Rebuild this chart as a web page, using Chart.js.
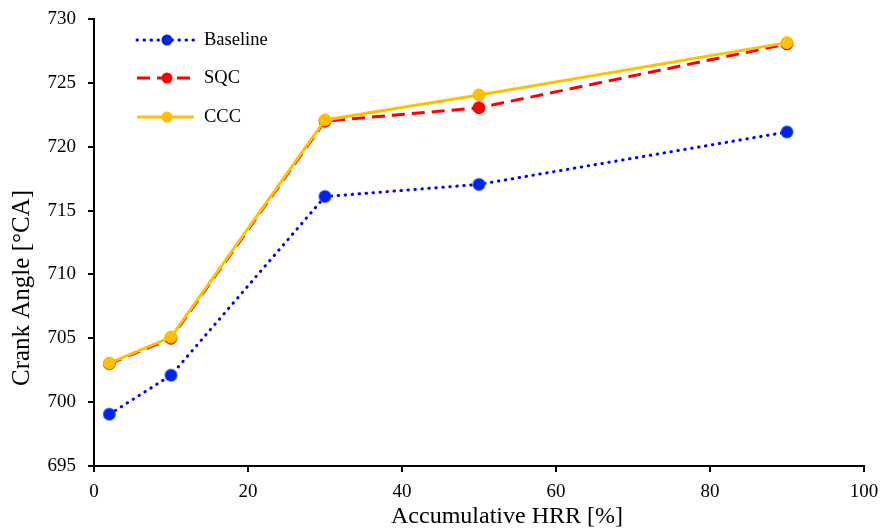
<!DOCTYPE html>
<html>
<head>
<meta charset="utf-8">
<script src="https://cdn.jsdelivr.net/npm/chart.js@4.4.0/dist/chart.umd.min.js"></script>
<style>
html,body{margin:0;padding:0;background:#fff;}
#wrap{width:882px;height:530px;}
</style>
</head>
<body>
<div id="wrap"><canvas id="c" width="882" height="530"></canvas></div>
<script>
const xValues = [2, 10, 30, 50, 90];
const baseline = [699.05, 702.1, 716.1, 717.05, 721.15];
const sqc = [703.0, 705.0, 722.0, 723.05, 728.05];
const ccc = [703.05, 705.1, 722.1, 724.05, 728.15];
const xTicks = [0, 20, 40, 60, 80, 100];
const yTicks = [695, 700, 705, 710, 715, 720, 725, 730];
const seriesNames = ['Baseline', 'SQC', 'CCC'];
const xTitle = 'Accumulative HRR [%]';
const yTitle = 'Crank Angle [°CA]';

const FONT = "'Liberation Serif', 'Times New Roman', serif";
const toPts = arr => arr.map((v, i) => ({x: xValues[i], y: v}));

const legendPlugin = {
  id: 'insideLegend',
  afterDraw(chart) {
    const ctx = chart.ctx;
    const ds = chart.data.datasets;
    const x0 = 137, x1 = 194, xm = 167, tx = 204;
    const rows = [40, 78, 117];
    ds.forEach((d, i) => {
      const y = rows[i];
      ctx.save();
      ctx.strokeStyle = d.borderColor;
      ctx.lineWidth = d.borderWidth;
      ctx.lineCap = d.borderCapStyle || 'butt';
      ctx.setLineDash(d.borderDash || []);
      ctx.beginPath(); ctx.moveTo(x0, y); ctx.lineTo(x1, y); ctx.stroke();
      ctx.setLineDash([]);
      ctx.fillStyle = d.pointBackgroundColor;
      ctx.beginPath(); ctx.arc(xm, y, 5.5, 0, Math.PI * 2); ctx.fill();
      ctx.fillStyle = '#000';
      ctx.font = '18.5px ' + FONT;
      ctx.textBaseline = 'middle';
      ctx.textAlign = 'left';
      ctx.fillText(d.label, tx, y);
      ctx.restore();
    });
    // axis titles (offset from centre as in the reference)
    ctx.save();
    ctx.fillStyle = '#000';
    ctx.textAlign = 'center';
    ctx.textBaseline = 'middle';
    ctx.font = '24px ' + FONT;
    ctx.fillText(xTitle, 507, 517);
    ctx.translate(22, 288);
    ctx.rotate(-Math.PI / 2);
    ctx.font = '25px ' + FONT;
    ctx.fillText(yTitle, 0, 0);
    ctx.restore();
  }
};

new Chart(document.getElementById('c'), {
  type: 'line',
  data: {
    datasets: [
      {
        label: seriesNames[0], data: toPts(baseline), order: 3,
        borderColor: '#0000FF', borderWidth: 3, borderDash: [0.5, 6.5], borderCapStyle: 'round',
        pointBackgroundColor: '#0022EE', pointBorderColor: 'rgba(40,90,220,0.6)', pointBorderWidth: 1.5,
        pointRadius: 6, tension: 0
      },
      {
        label: seriesNames[1], data: toPts(sqc), order: 2,
        borderColor: '#FF0000', borderWidth: 3, borderDash: [13, 7],
        pointBackgroundColor: '#FF0000', pointBorderColor: '#FF0000', pointBorderWidth: 1,
        pointRadius: 6, tension: 0
      },
      {
        label: seriesNames[2], data: toPts(ccc), order: 1,
        borderColor: '#FFC000', borderWidth: 3,
        pointBackgroundColor: '#FFC000', pointBorderColor: '#FFB800', pointBorderWidth: 1,
        pointRadius: 6, tension: 0
      }
    ]
  },
  options: {
    responsive: false,
    animation: false,
    layout: {padding: {top: 19, right: 18, left: 0, bottom: 0}},
    plugins: {legend: {display: false}, tooltip: {enabled: false}},
    scales: {
      x: {
        type: 'linear', min: 0, max: 100,
        afterBuildTicks: s => { s.ticks = xTicks.map(v => ({value: v})); },
        afterFit: s => { s.height = 64; s.paddingLeft = 0; s.paddingRight = 0; },
        grid: {drawOnChartArea: false, drawTicks: true, tickLength: 6, color: '#000', lineWidth: 2},
        border: {color: '#000', width: 2},
        ticks: {color: '#000', font: {family: FONT, size: 19}, padding: 9, maxRotation: 0},
        title: {display: false}
      },
      y: {
        type: 'linear', min: 695, max: 730,
        afterBuildTicks: s => { s.ticks = yTicks.map(v => ({value: v})); },
        afterFit: s => { s.width = 94; s.paddingTop = 0; s.paddingBottom = 0; },
        grid: {drawOnChartArea: false, drawTicks: true, tickLength: 6, color: '#000', lineWidth: 2},
        border: {color: '#000', width: 2},
        ticks: {color: '#000', font: {family: FONT, size: 19}, padding: 12},
        title: {display: false}
      }
    }
  },
  plugins: [legendPlugin]
});
</script>
</body>
</html>
